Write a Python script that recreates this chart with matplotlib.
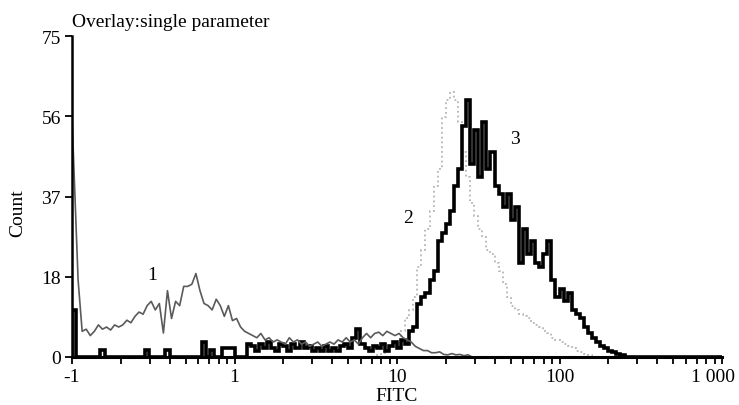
import numpy as np
import matplotlib
matplotlib.use("Agg")
import matplotlib.pyplot as plt
import matplotlib.transforms as mtransforms
from matplotlib.ticker import FixedLocator, LogLocator, NullFormatter

plt.rcParams['font.family'] = ['Liberation Serif', 'DejaVu Serif']

# 40 channels per decade, 0.1 .. 1000
n_chan = 160
edges = 10 ** (-1 + np.arange(n_chan + 1) / 40)

# curve 1 (thin gray), channels from 0
c1 = [56, 18, 6, 6.5, 5, 6, 7.5, 6.5, 7, 6.3,
      7.5, 7, 7.5, 8.6, 8, 9.5, 10.5, 10, 12, 13,
      11, 12.5, 5.6, 15.5, 9, 13, 12, 16.5, 16.5, 17,
      19.5, 15.5, 12.5, 12, 11, 13.5, 12, 9.5, 12, 8.5,
      9, 7, 6, 5.5, 5, 4.5, 5.5, 4, 4.5, 3.5,
      4, 3.5, 3, 4.5, 3.5, 4, 3, 3.5, 2.5, 3,
      3.5, 2.5, 3, 3.5, 3, 4, 3.5, 4.5, 3.5, 4,
      3, 4.5, 5.5, 4.5, 5.5, 5.8, 5, 6, 5.5, 5,
      5.5, 4.5, 4, 3.5, 2.5, 2, 1.5, 1.5, 1, 1,
      1.2, 0.6, 0.5, 0.8, 0.5, 0.6, 0.3, 0.5]

# curve 2 (dotted light gray), starts at channel 75
c2_start = 75
c2 = [0.5, 1, 1.5, 2, 3, 4, 6, 9, 11, 14,
      21, 25, 30, 34, 40, 44, 56, 60, 62, 60,
      55, 48, 42, 36, 33, 30, 28, 25, 24, 22,
      20, 17, 14, 12, 11, 10, 9.5, 9, 8, 7.5,
      7, 6, 5.5, 4.5, 4, 3.5, 3, 2.5, 2, 1.5,
      1.2, 0.8, 0.5]

# curve 3 (thick black), channels from 0
c3 = [11, 0, 0, 0, 0, 0, 0, 1.6, 0, 0,
      0, 0, 0, 0, 0, 0, 0, 0, 1.6, 0,
      0, 0, 0, 1.6, 0, 0, 0, 0, 0, 0,
      0, 0, 3.5, 0, 1.6, 0, 0, 2, 2, 2,
      0, 0, 0, 3, 2.5, 1.5, 3, 2, 3.5, 2,
      1.5, 3, 2.5, 1.5, 3, 2, 3.5, 2, 2.5, 1.5,
      2, 1.5, 2.5, 1.5, 2, 1.5, 2.5, 3, 2, 4.5,
      6.5, 3, 2, 1.5, 2.5, 2, 3, 1.5, 2.5, 3.5,
      2, 4, 3, 6, 7, 12.5, 14, 15, 18, 20,
      27, 29, 31, 34, 40, 44, 54, 60, 45, 53,
      42, 55, 44, 48, 40, 38, 35, 38, 32, 35,
      22, 30, 24, 27, 22, 21, 24, 27, 18, 14,
      16, 13, 15, 11, 10, 9, 7, 5.5, 4.5, 3.5,
      2.5, 2, 1.5, 1.2, 0.8, 0.4]


def full(vals, start=0):
    arr = np.zeros(n_chan)
    arr[start:start + len(vals)] = vals
    return arr


y1 = full(c1)
y2 = full(c2, c2_start)
y3 = full(c3)
centers = np.sqrt(edges[:-1] * edges[1:])
x1 = centers.copy()
x1[0] = edges[0]

fig = plt.figure(figsize=(7.39, 4.06), dpi=100)
ax = fig.add_axes([72 / 739, 1 - 358 / 406, 650 / 739, 321 / 406])

ax.stairs(y2, edges, color='#b5b5b5', linestyle=':', linewidth=1.3)
ax.plot(x1[:100], y1[:100], color='#5a5a5a', linewidth=1.2)
ax.stairs(y3, edges, color='black', linewidth=2.6)

ax.set_xscale('log')
ax.set_xlim(0.1, 1000)
ax.set_ylim(0, 75)

ax.xaxis.set_major_locator(FixedLocator([0.1, 1, 10, 100, 1000]))
ax.set_xticklabels(['-1', '1', '10', '100', '1 000'])
ax.xaxis.set_minor_locator(LogLocator(base=10, subs=np.arange(2, 10)))
ax.xaxis.set_minor_formatter(NullFormatter())
ax.set_yticks([0, 18.75, 37.5, 56.25, 75])
ax.set_yticklabels(['0', '18', '37', '56', '75'])

ax.tick_params(axis='both', which='both', direction='out', length=5, width=1.3,
               labelsize=14, pad=3)
for s in ['top', 'right']:
    ax.spines[s].set_visible(False)
ax.spines['left'].set_linewidth(1.8)
ax.spines['bottom'].set_linewidth(2.2)

# shift the last tick label left so it stays inside the figure
last = ax.get_xticklabels()[-1]
last.set_transform(last.get_transform() +
                   mtransforms.ScaledTranslation(-9 / 100, 0, fig.dpi_scale_trans))

ax.text(0.31, 19.3, '1', fontsize=14, ha='center', va='center')
ax.text(11.7, 32.6, '2', fontsize=14, ha='center', va='center')
ax.text(53.5, 51, '3', fontsize=14, ha='center', va='center')

fig.text(72 / 739, 1 - 14 / 406, 'Overlay:single parameter', fontsize=14,
         ha='left', va='top')
fig.text(18 / 739, 1 - 213 / 406, 'Count', fontsize=14, rotation=90,
         ha='center', va='center')
fig.text(397 / 739, 1 - 397 / 406, 'FITC', fontsize=14, ha='center', va='center')

fig.savefig('out.png', dpi=100)
